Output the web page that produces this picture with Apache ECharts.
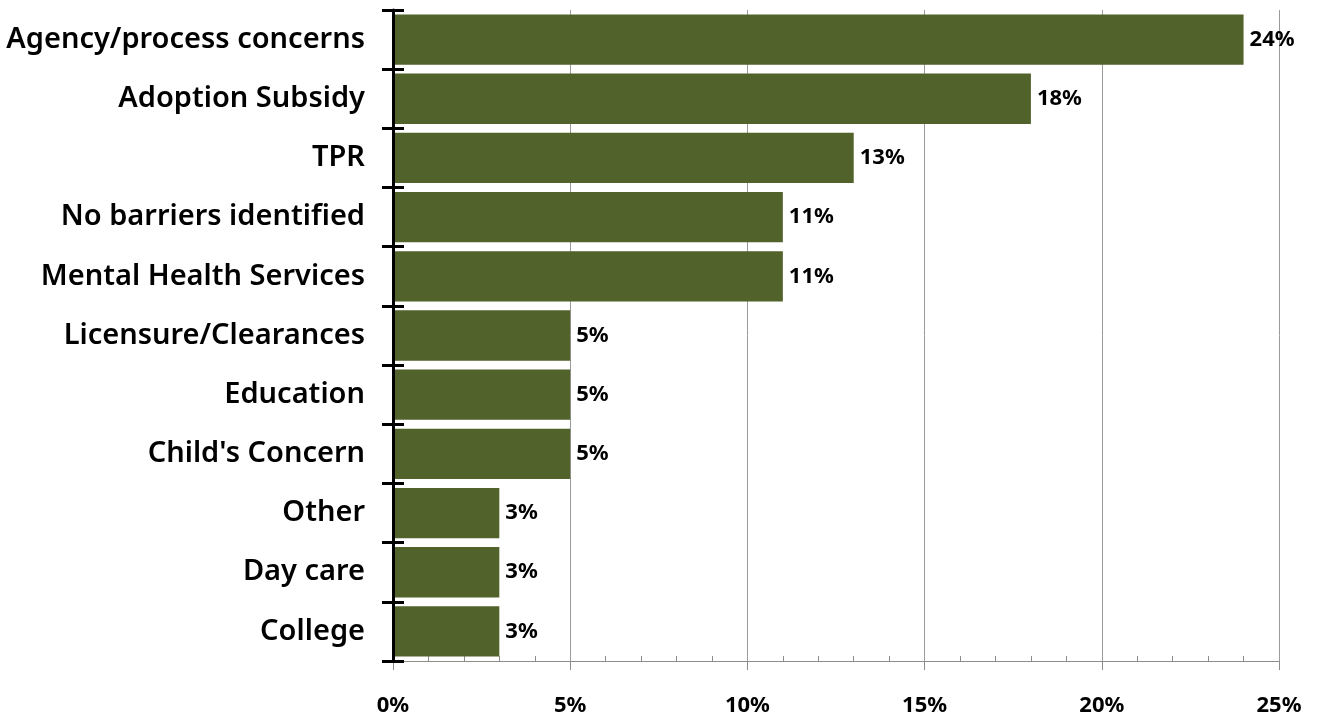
<!DOCTYPE html>
<html><head><meta charset="utf-8">
<script src="https://cdn.jsdelivr.net/npm/echarts@6/dist/echarts.min.js"></script>
<style>html,body{margin:0;padding:0;background:#fff}#c{width:1321px;height:721px}</style>
</head><body><div id="c"></div>
<script>
const categories = ["Agency/process concerns","Adoption Subsidy","TPR","No barriers identified","Mental Health Services","Licensure/Clearances","Education","Child's Concern","Other","Day care","College"];
const values = [24,18,13,11,11,5,5,5,3,3,3];
const xTicks = [0,5,10,15,20,25];

const chart = echarts.init(document.getElementById('c'));
const FONT = "Noto Sans";
chart.setOption({
  animation:false,
  grid:{left:393,right:42,top:10,bottom:60,containLabel:false},
  xAxis:[{
    type:'value',min:xTicks[0],max:xTicks[xTicks.length-1],interval:5,
    axisLine:{show:true,lineStyle:{color:'#8c8c8c',width:1}},
    axisTick:{show:true,length:9,lineStyle:{color:'#8c8c8c'}},
    minorTick:{show:false},
    splitLine:{show:true,lineStyle:{color:'#9a9a9a',width:1}},
    axisLabel:{margin:34,formatter:'{value}%',color:'#000',fontFamily:FONT,fontSize:22,fontWeight:'bold'}
  },{
    type:'value',min:0,max:25,interval:5,position:'bottom',
    axisLine:{show:false},
    axisTick:{show:false,inside:true},
    minorTick:{show:true,splitNumber:5,length:5,lineStyle:{color:'#8c8c8c'}},
    splitLine:{show:false},axisLabel:{show:false}
  }],
  yAxis:[{
    type:'category',data:categories,inverse:true,z:5,
    axisLine:{show:true,lineStyle:{color:'#000',width:3}},
    axisTick:{show:true,length:11,lineStyle:{color:'#000',width:3}},
    axisLabel:{margin:28,color:'#000',fontFamily:FONT,fontSize:29,fontWeight:600}
  },{
    type:'category',data:categories,inverse:true,position:'left',z:5,
    axisLine:{show:false},
    axisTick:{show:true,inside:true,length:11,lineStyle:{color:'#000',width:3}},
    axisLabel:{show:false}
  }],
  series:[{
    type:'bar',data:values,barCategoryGap:'15%',
    itemStyle:{color:'#51622A'},
    label:{show:true,position:'right',distance:6,formatter:'{c}%',color:'#000',fontFamily:FONT,fontSize:22,fontWeight:'bold'}
  }]
});
</script></body></html>
